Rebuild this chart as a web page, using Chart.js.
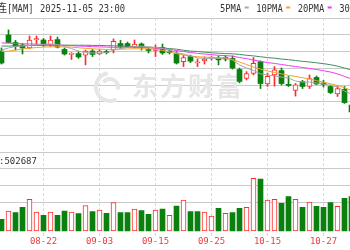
<!DOCTYPE html>
<html>
<head>
<meta charset="utf-8">
<script src="https://cdn.jsdelivr.net/npm/chart.js@4.4.1/dist/chart.umd.min.js"></script>
<style>
  html, body { margin: 0; padding: 0; background: #fff; }
</style>
</head>
<body>
<canvas id="kline" width="350" height="250"></canvas>
<script>
// 甲醇主连 日K (截图只显示了 08-14 ~ 10-31 这一段)
const dates = ['08-14','08-15','08-18','08-19','08-20','08-21','08-22','08-25','08-26','08-27',
  '08-28','08-29','09-01','09-02','09-03','09-04','09-05','09-08','09-09','09-10',
  '09-11','09-12','09-15','09-16','09-17','09-18','09-19','09-22','09-23','09-24',
  '09-25','09-26','09-29','09-30','10-09','10-10','10-13','10-14','10-15','10-16',
  '10-17','10-20','10-21','10-22','10-23','10-24','10-27','10-28','10-29','10-30','10-31'];
const tickLabels = ['08-22','09-03','09-15','09-25','10-15','10-27'];

const open  = [2342,2419,2383,2371,2357,2395,2395,2371,2397,2350, 2326,2330,2323,2342,2328,2340,2347,2378,2378,2361,
  2376,2350,2345,2359,2342,2330,2292,2316,2286,2296, 2309,2307,2311,2307,2254,2211,2235,2292,2185,2228,
  2249,2183,2154,2196,2173,2216,2190,2173,2137,2159,2084];
const high  = [2357,2443,2393,2378,2414,2414,2402,2414,2409,2357, 2335,2340,2347,2350,2350,2347,2400,2393,2385,2395,
  2381,2359,2371,2376,2347,2340,2323,2323,2304,2314, 2316,2319,2321,2319,2261,2244,2311,2295,2237,2268,
  2261,2221,2187,2202,2228,2223,2202,2180,2175,2173,2089];
const low   = [2280,2381,2347,2328,2354,2376,2364,2364,2357,2323, 2302,2307,2276,2316,2326,2328,2333,2354,2359,2357,
  2347,2333,2316,2326,2328,2280,2268,2287,2268,2280, 2299,2276,2295,2256,2190,2204,2228,2163,2173,2175,
  2180,2173,2127,2163,2163,2182,2170,2139,2125,2092,2042];
const close = [2285,2383,2364,2357,2395,2402,2371,2395,2361,2328, 2330,2314,2342,2326,2342,2335,2388,2364,2362,2376,
  2361,2345,2354,2333,2335,2285,2311,2294,2291,2303, 2311,2300,2304,2261,2197,2235,2283,2187,2221,2252,
  2187,2178,2181,2173,2211,2185,2183,2144,2163,2096,2051];
const prevClose = 2300; // 08-13

const volume = [351000,600000,549000,711000,951000,570000,471000,570000,471000,600000,
  570000,519000,759000,579000,630000,531000,849000,549000,549000,660000,
  609000,501000,630000,660000,471000,750000,930000,579000,579000,570000,
  450000,681000,531000,549000,681000,711000,1581000,1560000,930000,951000,
  831000,1029000,951000,711000,870000,741000,711000,849000,741000,981000,1029000];
const lastVolume = 502687;

const ma5  = [2347,2357,2364,2366,2369,2373,2374,2376,2373,2364, 2354,2342,2335,2333,2333,2335,2347,2354,2359,2364,
  2366,2361,2359,2354,2347,2335,2328,2319,2309,2307, 2307,2307,2309,2299,2276,2261,2249,2233,2228,2223,
  2218,2213,2199,2194,2194,2190,2185,2178,2170,2151,2137];
const ma10 = [2339,2342,2347,2352,2356,2359,2361,2362,2363,2362, 2361,2358,2355,2353,2351,2350,2350,2351,2352,2353,
  2353,2353,2351,2345,2338,2330,2323,2319,2315,2313, 2312,2311,2308,2302,2290,2278,2266,2256,2247,2240,
  2233,2226,2221,2215,2209,2201,2193,2186,2178,2167,2154];
const ma20 = [2381,2380,2378,2377,2376,2375,2373,2372,2371,2370, 2368,2366,2365,2363,2362,2361,2360,2360,2360,2360,
  2359,2358,2356,2353,2350,2345,2340,2335,2331,2328, 2325,2322,2320,2318,2311,2306,2299,2293,2287,2283,
  2278,2273,2268,2264,2259,2254,2248,2242,2233,2221,2209];
const ma30 = [2366,2366,2367,2368,2369,2369,2370,2370,2370,2370, 2370,2370,2370,2369,2369,2368,2367,2366,2365,2363,
  2362,2361,2359,2357,2354,2351,2346,2342,2340,2337, 2334,2332,2330,2329,2326,2322,2319,2315,2311,2308,
  2304,2301,2297,2293,2290,2286,2282,2277,2270,2261,2252];

const RED = '#ff2b2b';
const GREEN = '#0a800f';
const MONO = '"DejaVu Sans Mono", monospace';

const up = close.map((c, i) => c >= open[i]);
const volUp = close.map((c, i) => c >= (i ? close[i - 1] : prevClose));
const pts = (arr) => arr.map((v, i) => ({ x: i, y: v }));

function maLine(label, arr, color) {
  return {
    type: 'line', label, data: pts(arr), yAxisID: 'y',
    borderColor: color, borderWidth: 1, pointRadius: 0, tension: 0, order: 0
  };
}

// 东方财富水印
const watermark = {
  id: 'watermark',
  beforeDatasetsDraw(chart) {
    const c = chart.ctx;
    c.save();
    c.strokeStyle = '#e6e6e6';
    c.lineWidth = 4;
    c.beginPath();
    c.arc(110, 87, 14, Math.PI * 0.35, Math.PI * 1.45);
    c.stroke();
    c.beginPath();
    c.arc(110, 87, 8, Math.PI * 1.2, Math.PI * 2.1);
    c.stroke();
    c.fillStyle = '#e6e6e6';
    c.font = 'bold 26px "Noto Sans CJK SC"';
    c.letterSpacing = '2px';
    c.textBaseline = 'alphabetic';
    c.fillText('东方财富', 132, 96);
    c.restore();
  }
};

// 顶部标题 + 均线图例 + 成交量数值
const header = {
  id: 'header',
  afterDraw(chart) {
    const c = chart.ctx;
    c.save();
    c.fillStyle = '#333';
    c.textBaseline = 'alphabetic';
    c.font = '11px "Noto Sans CJK SC"';
    c.fillText('连', -4, 12);
    c.font = '11px ' + MONO;
    c.fillText('[MAM]', 7, 12, 26.5);
    c.fillText('2025-11-05 23:00', 40, 12, 85);

    let x = 220;
    chart.data.datasets.filter(d => d.type === 'line').forEach(d => {
      const w = d.label.length * 5.3;
      c.fillStyle = '#333';
      c.fillText(d.label, x, 12, w);
      c.fillStyle = d.borderColor;
      c.fillRect(x + w + 3.5, 6.5, 4, 2);
      x += w + 3.5 + 4 + 7.5;
    });

    c.fillStyle = '#333';
    c.font = '9px ' + MONO;
    c.fillText(':' + lastVolume, -1, 163.5);
    c.restore();
  }
};

new Chart(document.getElementById('kline'), {
  type: 'bar',
  data: {
    datasets: [
      maLine('5PMA', ma5, '#a6a6a6'),
      maLine('10PMA', ma10, '#f2a22a'),
      maLine('20PMA', ma20, '#f03cf0'),
      maLine('30PMA', ma30, '#3d8f5f'),
      {
        label: 'body', yAxisID: 'y', order: 2, grouped: false,
        data: dates.map((d, i) => ({ x: i, y: [open[i], close[i]] })),
        backgroundColor: up.map(u => u ? '#fff' : GREEN),
        borderColor: up.map(u => u ? RED : GREEN),
        borderWidth: up.map(u => u ? 1 : 0),
        borderSkipped: false, barThickness: 5, minBarLength: 1
      },
      {
        label: 'wick', yAxisID: 'y', order: 3, grouped: false,
        data: dates.map((d, i) => ({ x: i, y: [low[i], high[i]] })),
        backgroundColor: up.map(u => u ? RED : GREEN),
        borderWidth: 0, barThickness: 1
      },
      {
        label: 'vol', yAxisID: 'yv', order: 2, grouped: false,
        data: dates.map((d, i) => ({ x: i, y: volume[i] })),
        backgroundColor: volUp.map(u => u ? '#fff' : GREEN),
        borderColor: volUp.map(u => u ? RED : GREEN),
        borderWidth: volUp.map(u => u ? 1 : 0),
        borderSkipped: false, barThickness: 5
      }
    ]
  },
  options: {
    responsive: false,
    animation: false,
    events: [],
    layout: { padding: { top: 18, left: 0, right: 0, bottom: 0 } },
    plugins: { legend: { display: false }, tooltip: { enabled: false } },
    scales: {
      x: {
        type: 'linear',
        offset: false,
        min: -3 / 14,           // 第一根K线落在 x=1.5
        max: 50 - 3 / 14,
        afterBuildTicks(axis) {
          axis.ticks = tickLabels.map(l => ({ value: dates.indexOf(l) }));
        },
        afterFit(axis) {
          axis.height = 14.25;
          axis.paddingLeft = 0;
          axis.paddingRight = 0;
        },
        ticks: {
          color: '#ee3b3b', font: { family: MONO, size: 9 }, padding: 1,
          maxRotation: 0, autoSkip: false, callback: v => dates[v]
        },
        grid: { color: '#d8d8d8', drawTicks: false, offset: false },
        border: { display: false, dash: [3, 2] }
      },
      // 左侧堆叠: 后定义的在上面
      yv: {
        stack: 'k', stackWeight: 5, min: -142500, max: 2370000,
        ticks: { display: false, stepSize: 502500 },
        grid: { color: ctx => ctx.tick.value < 500000 ? 'rgba(0,0,0,0)' : '#cacaca', drawTicks: false },
        border: { display: false }
      },
      y: {
        stack: 'k', stackWeight: 8, min: 1860, max: 2500,
        ticks: { display: false, stepSize: 80 },
        grid: { color: '#cacaca', drawTicks: false },
        border: { display: false }
      }
    }
  },
  plugins: [watermark, header]
});
</script>
</body>
</html>
